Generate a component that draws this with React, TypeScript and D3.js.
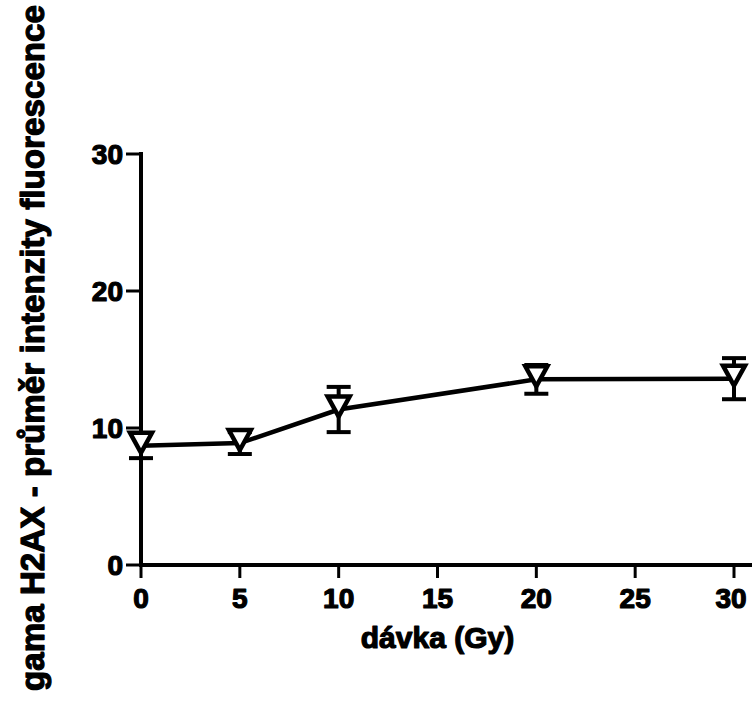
import React from 'react';
import * as d3 from 'd3';

const doses = [0, 5, 10, 20, 30];
const means = [8.7, 8.9, 11.35, 13.55, 13.6];
const errors = [0.9, 0.8, 1.65, 1.05, 1.5];
const xTicks = [0, 5, 10, 15, 20, 25, 30];
const yTicks = [0, 10, 20, 30];

const W = 752;
const H = 708;
const margin = { top: 154, right: 18, bottom: 143, left: 141 };
const FONT = "'Liberation Sans', Arial, sans-serif";

// faux heavy weight, the original glyphs are very fat
const heavy = { fontFamily: FONT, fontWeight: 'bold' as const, stroke: '#000', strokeWidth: 1.2, strokeLinejoin: 'round' as const };

export default function App() {
  const x = d3.scaleLinear().domain([0, 30]).range([margin.left, W - margin.right]);
  const y = d3.scaleLinear().domain([0, 30]).range([H - margin.bottom, margin.top]);

  const line = d3
    .line<number>()
    .x((_, i) => x(doses[i]))
    .y((d) => y(d));

  const tri = 11; // half width of marker
  const triPath = (cx: number, cy: number) =>
    `M${cx - tri},${cy - 10}L${cx + tri},${cy - 10}L${cx},${cy + 10}Z`;

  const x0 = x(0);
  const y0 = y(0);

  return (
    <svg width={W} height={H} style={{ position: 'absolute', left: 0, top: 0, background: '#fff' }}>
      {/* y axis */}
      <line x1={x0} x2={x0} y1={y(30) - 2} y2={y0 + 2} stroke="#000" strokeWidth={4} />
      {yTicks.map((t) => (
        <g key={`y${t}`}>
          <line x1={x0 - 15} x2={x0} y1={y(t)} y2={y(t)} stroke="#000" strokeWidth={3} />
          <text x={x0 - 18} y={y(t)} dy="0.36em" textAnchor="end" fontSize={28} {...heavy}>
            {t}
          </text>
        </g>
      ))}

      {/* x axis */}
      <line x1={x0 - 2} x2={W} y1={y0} y2={y0} stroke="#000" strokeWidth={4} />
      {xTicks.map((t) => (
        <g key={`x${t}`}>
          <line x1={x(t)} x2={x(t)} y1={y0} y2={y0 + 13} stroke="#000" strokeWidth={3} />
          <text x={t === 30 ? x(t) - 3 : x(t)} y={y0 + 43} textAnchor="middle" fontSize={28} {...heavy}>
            {t}
          </text>
        </g>
      ))}

      {/* axis titles */}
      <text x={(x0 + x(30)) / 2} y={648} textAnchor="middle" fontSize={30} {...heavy}>
        dávka (Gy)
      </text>
      <text transform={`translate(44,${348}) rotate(-90)`} textAnchor="middle" fontSize={33.2} {...heavy}>
        gama H2AX - průměr intenzity fluorescence
      </text>

      {/* error bars */}
      {doses.map((d, i) => {
        const cx = x(d);
        const yt = y(means[i] + errors[i]);
        const yb = y(means[i] - errors[i]);
        return (
          <g key={`e${d}`} stroke="#000">
            <line x1={cx} x2={cx} y1={yt} y2={yb} strokeWidth={4} />
            <line x1={cx - 12} x2={cx + 12} y1={yt} y2={yt} strokeWidth={4} />
            <line x1={cx - 12} x2={cx + 12} y1={yb} y2={yb} strokeWidth={4} />
          </g>
        );
      })}

      {/* connecting line */}
      <path d={line(means) ?? ''} fill="none" stroke="#000" strokeWidth={4.5} />

      {/* markers, open with white inside */}
      {doses.map((d, i) => (
        <path
          key={`m${d}`}
          d={triPath(x(d), y(means[i]) - 3)}
          fill="#fff"
          stroke="#000"
          strokeWidth={4.5}
          strokeLinejoin="miter"
        />
      ))}
    </svg>
  );
}
